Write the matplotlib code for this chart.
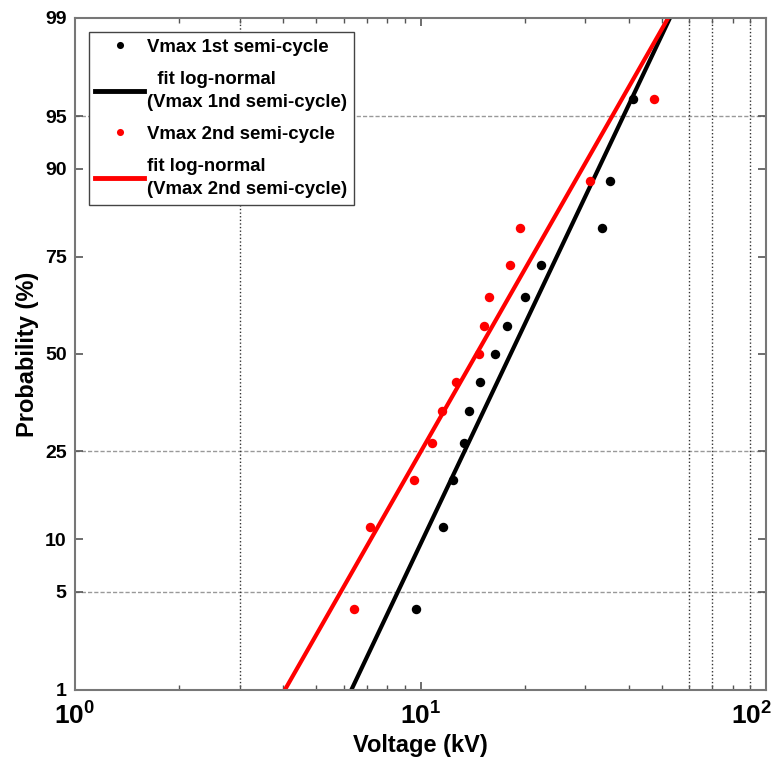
import numpy as np
import matplotlib
matplotlib.use("Agg")
import matplotlib.pyplot as plt
import matplotlib.transforms as mtransforms
from matplotlib.ticker import FixedLocator, FixedFormatter, FuncFormatter, LogLocator, NullFormatter
from statistics import NormalDist

plt.rcParams['font.family'] = ['Liberation Sans', 'DejaVu Sans']
plt.rcParams['mathtext.fontset'] = 'custom'
plt.rcParams['mathtext.rm'] = 'Liberation Sans:weight=bold'
plt.rcParams['mathtext.bf'] = 'Liberation Sans:weight=bold'
plt.rcParams['mathtext.it'] = 'Liberation Sans:weight=bold'

# Peak voltages (kV) measured in each semi-cycle
vmax_1st = [9.70, 11.62, 12.42, 13.36, 13.82, 14.87, 16.43, 17.80, 20.07, 22.33, 33.51, 35.36, 41.22]
vmax_2nd = [6.42, 7.14, 9.58, 10.80, 11.54, 12.67, 14.77, 15.27, 15.79, 18.16, 19.41, 30.95, 47.40]

prob_ticks = [1, 5, 10, 25, 50, 75, 90, 95, 99]
volt_ticks = [1, 10, 100]
prob_grid = [5, 25, 95]
volt_grid = [3, 60, 70, 90]

ND = NormalDist()
_ppf = np.vectorize(lambda v: ND.inv_cdf(v / 100.0), otypes=[float])
_cdf = np.vectorize(lambda v: ND.cdf(v) * 100.0, otypes=[float])


def probit(p):
    p = np.clip(np.asarray(p, dtype=float), 1e-9, 100 - 1e-9)
    return _ppf(p)


def inv_probit(z):
    return _cdf(np.asarray(z, dtype=float))


def plotting_positions(values):
    x = np.sort(np.asarray(values, dtype=float))
    n = len(x)
    p = (np.arange(1, n + 1) - 0.5) / n * 100.0
    return x, p


def lognormal_fit_line(values, p_lo=1.0, p_hi=99.0):
    logs = np.log(np.asarray(values, dtype=float))
    mu, sigma = logs.mean(), logs.std(ddof=1)
    z = np.linspace(ND.inv_cdf(p_lo / 100), ND.inv_cdf(p_hi / 100), 200)
    return np.exp(mu + sigma * z), inv_probit(z)


fig = plt.figure(figsize=(7.82, 7.69), dpi=100)
ax = fig.add_axes([75 / 782, 79 / 769, 691 / 782, 672 / 769])
ax.set_xscale('log')
ax.set_yscale('function', functions=(probit, inv_probit))
ax.set_xlim(1, 100)
ax.set_ylim(1, 99)

# Reference grid
for g in prob_grid:
    ax.axhline(g, color='#999999', lw=1.0, ls=(0, (3, 1.5)), zorder=1)
for g in volt_grid:
    ax.axvline(g, color='#333333', lw=1.0, ls=(0, (1, 1.6)), zorder=1)

x1, p1 = plotting_positions(vmax_1st)
x2, p2 = plotting_positions(vmax_2nd)
fx1, fp1 = lognormal_fit_line(vmax_1st)
fx2, fp2 = lognormal_fit_line(vmax_2nd)

ax.plot(x1, p1, 'o', color='black', ms=6.8, mec='none', label='Vmax 1st semi-cycle', zorder=3)
ax.plot(fx1, fp1, '-', color='black', lw=3.0, label='  fit log-normal\n(Vmax 1nd semi-cycle)', zorder=2)
ax.plot(x2, p2, 'o', color='red', ms=6.8, mec='none', label='Vmax 2nd semi-cycle', zorder=3)
ax.plot(fx2, fp2, '-', color='red', lw=3.0, label='fit log-normal\n(Vmax 2nd semi-cycle)', zorder=2)

# Axis ticks
ax.yaxis.set_major_locator(FixedLocator(prob_ticks))
ax.yaxis.set_major_formatter(FixedFormatter([str(t) for t in prob_ticks]))
ax.yaxis.set_minor_locator(FixedLocator([]))
ax.xaxis.set_major_locator(FixedLocator(volt_ticks))
ax.xaxis.set_major_formatter(FuncFormatter(lambda v, pos: r'$\mathbf{10^{%d}}$' % round(np.log10(v))))
ax.xaxis.set_minor_locator(LogLocator(base=10, subs=np.arange(2, 10)))
ax.xaxis.set_minor_formatter(NullFormatter())
ax.tick_params(which='both', direction='in', top=True, right=True, color='#555555')
ax.tick_params(which='major', length=6, width=1.2)
ax.tick_params(which='minor', length=3.5, width=1.0)
ax.tick_params(axis='y', labelsize=14, pad=6)
ax.tick_params(axis='x', labelsize=19, pad=9)
for lab in ax.get_yticklabels():
    lab.set_fontweight('bold')

# keep the last decade label inside the figure
last = ax.xaxis.get_major_ticks()[-1].label1
last.set_transform(last.get_transform() +
                   mtransforms.ScaledTranslation(-0.14, 0, fig.dpi_scale_trans))

for s in ax.spines.values():
    s.set_color('#777777')
    s.set_linewidth(1.5)

ax.set_xlabel('Voltage (kV)', fontsize=17, fontweight='bold', labelpad=3)
ax.set_ylabel('Probability (%)', fontsize=17, fontweight='bold', labelpad=4)

leg = ax.legend(loc='upper left', bbox_to_anchor=(0.02, 0.979), borderaxespad=0,
                fancybox=False, framealpha=1, edgecolor='#444444',
                prop={'weight': 'bold', 'size': 13.4},
                handlelength=2.6, handletextpad=0.2, borderpad=0.35, labelspacing=0.8,
                markerscale=0.75)
leg.get_frame().set_linewidth(1.0)
for t in leg.get_texts():
    t.set_linespacing(1.5)
for h in leg.get_lines():
    h.set_linewidth(3.5)

fig.savefig('out.png', dpi=100, facecolor='white')
